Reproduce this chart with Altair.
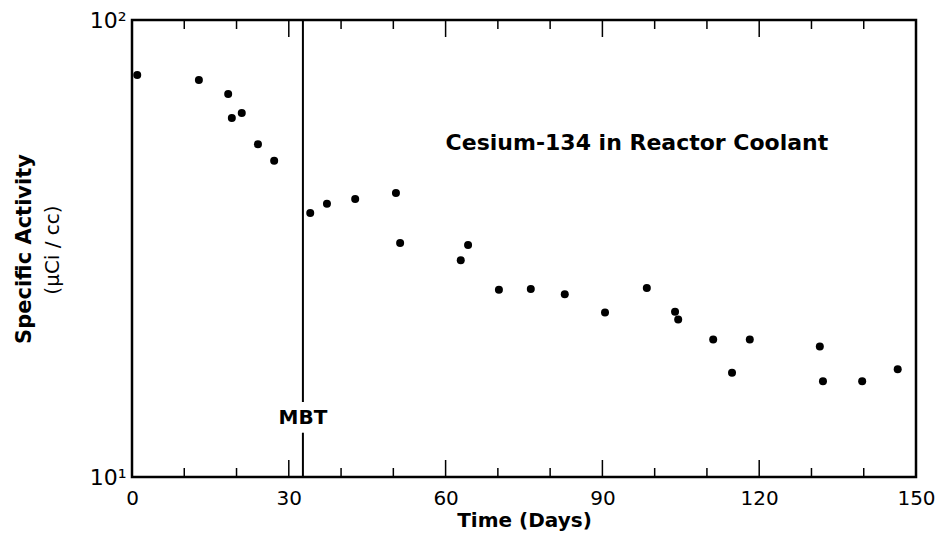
import altair as alt
import pandas as pd

# ---- data ----
days = [1.0, 12.8, 18.4, 19.1, 21.0, 24.1, 27.2, 34.1, 37.3, 42.7, 50.5, 51.3,
        62.9, 64.3, 70.2, 76.3, 82.8, 90.5, 98.5, 103.9, 104.5, 111.2, 114.8,
        118.2, 131.6, 132.2, 139.7, 146.5]
activity = [75.8, 73.9, 68.9, 61.0, 62.6, 53.5, 49.2, 37.8, 39.6, 40.6, 41.8,
            32.5, 29.8, 32.2, 25.7, 25.8, 25.1, 22.9, 25.9, 23.0, 22.1, 20.0,
            16.9, 20.0, 19.3, 16.2, 16.2, 17.2]

mbt_day = 32.7
mbt_seg_lo = [10, 14.6]
mbt_seg_hi = [12.5, 100]
mbt_label_y = 13.45

x_label_ticks = [0, 30, 60, 90, 120, 150]
minor_ticks = [10, 20, 40, 50, 70, 80, 100, 110, 130, 140]
major_ticks = [30, 60, 90, 120]
y_ticks = [10, 100]

annot_text = "Cesium-134 in Reactor Coolant"
annot_x = 60.0
annot_y = 53.8

W, H = 784, 457
FONT = "DejaVu Sans"

df = pd.DataFrame({"day": days, "activity": activity})
mbt_df = pd.DataFrame({"day": [mbt_day] * len(mbt_seg_lo), "lo": mbt_seg_lo, "hi": mbt_seg_hi})
minor_df = pd.DataFrame({"t": minor_ticks})
major_df = pd.DataFrame({"t": major_ticks})

xscale = alt.Scale(domain=[0, 150], nice=False, zero=False)
yscale = alt.Scale(type="log", domain=[10, 100], nice=False)

xaxis = alt.Axis(values=x_label_ticks, ticks=False, domain=False, grid=False,
                 labelFont=FONT, labelFontSize=20, labelColor="black",
                 labelPadding=11, labelFlush=False,
                 title="Time (Days)", titleFont=FONT, titleFontSize=20,
                 titleFontWeight="bold", titleColor="black", titlePadding=2)
yaxis = alt.Axis(values=y_ticks, ticks=False, domain=False, grid=False,
                 labelExpr="datum.value == 10 ? '10¹' : '10²'",
                 labelFont=FONT, labelFontSize=22, labelColor="black",
                 labelPadding=6, title=None)

points = alt.Chart(df).mark_circle(size=64, color="black", opacity=1).encode(
    x=alt.X("day:Q", scale=xscale, axis=xaxis),
    y=alt.Y("activity:Q", scale=yscale, axis=yaxis),
)

mbt_line = alt.Chart(mbt_df).mark_rule(color="black", strokeWidth=2).encode(
    x=alt.X("day:Q", scale=xscale),
    y=alt.Y("lo:Q", scale=yscale),
    y2="hi:Q",
)

mbt_text = alt.Chart(pd.DataFrame({"day": [mbt_day], "v": [mbt_label_y], "t": ["MBT"]})).mark_text(
    font=FONT, fontSize=20, fontWeight="bold", color="black", align="center", baseline="middle"
).encode(x=alt.X("day:Q", scale=xscale), y=alt.Y("v:Q", scale=yscale), text="t:N")

annot = alt.Chart(pd.DataFrame({"day": [annot_x], "v": [annot_y], "t": [annot_text]})).mark_text(
    font=FONT, fontSize=22, fontWeight="bold", color="black", align="left", baseline="middle"
).encode(x=alt.X("day:Q", scale=xscale), y=alt.Y("v:Q", scale=yscale), text="t:N")

bot_minor = alt.Chart(minor_df).mark_rule(color="black", strokeWidth=1.5).encode(
    x=alt.X("t:Q", scale=xscale), y=alt.value(H), y2=alt.value(H - 9))
bot_major = alt.Chart(major_df).mark_rule(color="black", strokeWidth=1.5).encode(
    x=alt.X("t:Q", scale=xscale), y=alt.value(H), y2=alt.value(H - 17))
top_minor = alt.Chart(minor_df).mark_rule(color="black", strokeWidth=1.5).encode(
    x=alt.X("t:Q", scale=xscale), y=alt.value(0), y2=alt.value(9))
top_major = alt.Chart(major_df).mark_rule(color="black", strokeWidth=1.5).encode(
    x=alt.X("t:Q", scale=xscale), y=alt.value(0), y2=alt.value(17))

ytitle1 = alt.Chart(pd.DataFrame({"t": ["Specific Activity"]})).mark_text(
    font=FONT, fontSize=21, fontWeight="bold", color="black", angle=270,
    align="center", baseline="middle"
).encode(x=alt.value(-107), y=alt.value(229), text="t:N")
ytitle2 = alt.Chart(pd.DataFrame({"t": ["(μCi / cc)"]})).mark_text(
    font=FONT, fontSize=20, color="black", angle=270,
    align="center", baseline="middle"
).encode(x=alt.value(-79), y=alt.value(230), text="t:N")

chart = alt.layer(
    bot_minor, bot_major, top_minor, top_major, mbt_line, mbt_text, annot,
    points, ytitle1, ytitle2
).properties(
    width=W, height=H,
    autosize=alt.AutoSizeParams(type="none"),
    padding={"left": 124, "top": 12, "right": 19, "bottom": 56},
    background="white",
).configure_view(stroke="black", strokeWidth=2.5)

chart.save("out.html", embed_options={"renderer": "svg", "actions": False})
